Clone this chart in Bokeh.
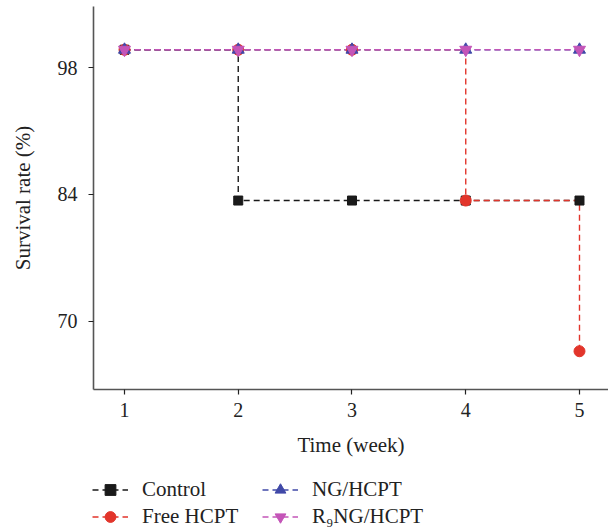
from bokeh.plotting import figure
from bokeh.layouts import column
from bokeh.models import Range1d, FixedTicker, Legend, LegendItem
from bokeh.embed import file_html
from bokeh.resources import INLINE

weeks = [1, 2, 3, 4, 5]
control = [100, 83.33, 83.33, 83.33, 83.33]
free_hcpt = [100, 100, 100, 83.33, 66.67]
ng_hcpt = [100, 100, 100, 100, 100]
r9ng_hcpt = [100, 100, 100, 100, 100]
names = ["Control", "Free HCPT", "NG/HCPT", "R\u2089NG/HCPT"]
x_ticks = [1, 2, 3, 4, 5]
y_ticks = [70, 84, 98]

FONT = "Liberation Serif"

p = figure(frame_width=515, frame_height=383,
           output_backend="svg", toolbar_location=None,
           x_range=Range1d(0.7275, 5.255), y_range=Range1d(62.44, 104.78),
           min_border_top=6, min_border_right=0, min_border_left=93,
           min_border_bottom=81)
p.outline_line_color = None
p.xgrid.visible = False
p.ygrid.visible = False

for ax in (p.xaxis[0], p.yaxis[0]):
    ax.axis_line_color = "#555555"
    ax.axis_line_width = 1.6
    ax.major_tick_line_color = "#222222"
    ax.major_tick_line_width = 1.2
    ax.major_tick_in = 0
    ax.major_tick_out = 5
    ax.minor_tick_line_color = None
    ax.major_label_text_font = FONT
    ax.major_label_text_font_size = "20px"
    ax.major_label_text_color = "#222222"
    ax.axis_label_text_font = FONT
    ax.axis_label_text_font_size = "21px"
    ax.axis_label_text_font_style = "normal"
    ax.axis_label_text_color = "#222222"

p.xaxis.ticker = FixedTicker(ticks=x_ticks)
p.yaxis.ticker = FixedTicker(ticks=y_ticks)
p.xaxis.axis_label = "Time (week)"
p.yaxis.axis_label = "Survival rate (%)"
p.xaxis.major_label_standoff = 8
p.xaxis.axis_label_standoff = 13
p.yaxis.major_label_standoff = 11
p.yaxis.axis_label_standoff = 20

colors = ["#1a1a1a", "#e2352b", "#4049a8", "#c455b8"]
markers = ["square", "circle", "triangle", "inverted_triangle"]
sizes = [9, 11, 12, 12]
series = [control, free_hcpt, ng_hcpt, r9ng_hcpt]


def draw(fig):
    lines = []
    for ys, c in zip(series, colors):
        lines.append(fig.step(weeks, ys, mode="after", line_color=c, line_width=1.4,
                              line_dash="6 4"))
    marks = []
    for ys, c, m, s in zip(series, colors, markers, sizes):
        marks.append(fig.scatter(weeks, ys, marker=m, size=s, fill_color=c,
                                 line_color=c))
    return lines, marks


draw(p)

# legend strip below the chart (its renderers lie outside its visible range)
q = figure(frame_width=608, frame_height=61, output_backend="svg",
           toolbar_location=None, x_axis_type=None, y_axis_type=None,
           x_range=Range1d(100, 101), y_range=Range1d(0, 1),
           min_border=0)
q.outline_line_color = None
q.xgrid.visible = False
q.ygrid.visible = False
lines, marks = draw(q)

items = [LegendItem(label=n, renderers=[l, m]) for n, l, m in zip(names, lines, marks)]
legend = Legend(items=items, nrows=2, orientation="vertical",
                label_text_font=FONT, label_text_font_size="21px",
                label_text_color="#222222",
                glyph_width=36, glyph_height=27, label_height=20,
                label_width=120,
                label_standoff=14, spacing=0, padding=0, margin=0,
                border_line_color=None, background_fill_alpha=0,
                location=(92, 1))
q.add_layout(legend)

layout = column(p, q, spacing=0)
open("out.html", "w").write(file_html(layout, INLINE))
